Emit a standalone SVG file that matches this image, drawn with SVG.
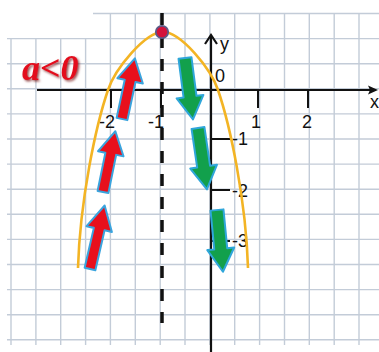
<svg xmlns="http://www.w3.org/2000/svg" width="379" height="352" viewBox="0 0 379 352">
<style>
.g{stroke:#c3ccd8;stroke-width:1.4;fill:none}
.ax{stroke:#111;stroke-width:2.2;fill:none}
.tk{stroke:#111;stroke-width:2;fill:none}
.lb{font-family:"Liberation Sans",Arial,sans-serif;font-size:18px;fill:#111}
.red{fill:#e8101c;stroke:#3aa4de;stroke-width:2;stroke-linejoin:round}
.grn{fill:#12a04c;stroke:#2fa6da;stroke-width:2;stroke-linejoin:round}
</style>
<defs>
<polygon id="arr" points="-5.5,0 -5.5,-39 -13,-39 0,-62 13,-39 5.5,-39 5.5,0"/>
<polygon id="arrg" points="-6.5,0 -6.5,-39 -13.5,-39 0,-62 13.5,-39 6.5,-39 6.5,0"/>
<filter id="sh" x="-20%" y="-20%" width="140%" height="140%">
<feDropShadow dx="1.5" dy="1.5" stdDeviation="0.8" flood-color="#6a0000" flood-opacity="0.7"/>
</filter>
</defs>
<rect width="379" height="352" fill="#fff"/>
<g id="grid" class="g">
<path d="M11,38V345M35.9,38V345M60.7,38V345M85.6,38V345M110.4,13.5V345M135.3,13.5V345M160.2,13.5V345M185,13.5V345M209.9,13.5V345M234.7,13.5V345M259.6,13.5V345M284.5,13.5V345M309.3,13.5V345M334.2,13.5V345M359,13.5V345"/>
<path d="M93,13.5H379M7,38.6H379M7,63.7H379M7,88.8H379M7,113.9H379M7,139H379M7,164.1H379M7,189.2H379M7,214.3H379M7,239.4H379M7,264.5H379M7,289.6H379M7,314.7H379M7,339.8H379"/>
</g>
<g id="axes">
<path class="ax" d="M37,90H376"/>
<path d="M378,90L368,85.5L370,90L368,94.5Z" fill="#111"/>
<path class="ax" d="M211,352V36"/>
<path class="ax" d="M205,44L211,35L217,44"/>
<path class="tk" d="M111,90V108M161,90V108M258,90V108M308,90V108"/>
<path class="tk" d="M211,139H230M211,190H230M211,241H230"/>
</g>
<g id="labels">
<text class="lb" x="370" y="108">x</text>
<text class="lb" x="220" y="50">y</text>
<text class="lb" x="215" y="82">0</text>
<text class="lb" x="99" y="128">-2</text>
<text class="lb" x="148" y="128">-1</text>
<text class="lb" x="251" y="128">1</text>
<text class="lb" x="302" y="128">2</text>
<text class="lb" x="232" y="145" font-size="17">-1</text>
<text class="lb" x="232" y="197" font-size="17">-2</text>
<text class="lb" x="232" y="247" font-size="17">-3</text>
</g>
<g id="axis-of-symmetry">
<path d="M162,13V323" stroke="#111" stroke-width="3.5" stroke-dasharray="12 11" fill="none"/>
</g>
<g id="parabola">
<path d="M78,268C80,200 96,125 108,90C115,69 145,32 163,32C181,32 211,69 218,90C230,125 246,200 248,268" fill="none" stroke="#f3b424" stroke-width="2.6"/>
</g>
<g id="vertex">
<circle cx="162" cy="32" r="6.2" fill="#d3123a" stroke="#5b5a86" stroke-width="1.8"/>
</g>
<g id="increasing-arrows">
<use href="#arr" class="red" transform="translate(122,119) rotate(12)"/>
<use href="#arr" class="red" transform="translate(103,192) rotate(11.5)"/>
<use href="#arr" class="red" transform="translate(90,269) rotate(13) scale(1,1.05)"/>
</g>
<g id="decreasing-arrows">
<use href="#arrg" class="grn" transform="translate(185,58) rotate(172.6)"/>
<use href="#arrg" class="grn" transform="translate(198,128) rotate(171.7)"/>
<use href="#arrg" class="grn" transform="translate(217,210) rotate(174.5)"/>
</g>
<g id="title">
<text x="22" y="80" font-family="Liberation Serif,'Times New Roman',serif" font-weight="bold" font-style="italic" font-size="36" fill="#e3101e" filter="url(#sh)">a&lt;0</text>
</g>
</svg>
